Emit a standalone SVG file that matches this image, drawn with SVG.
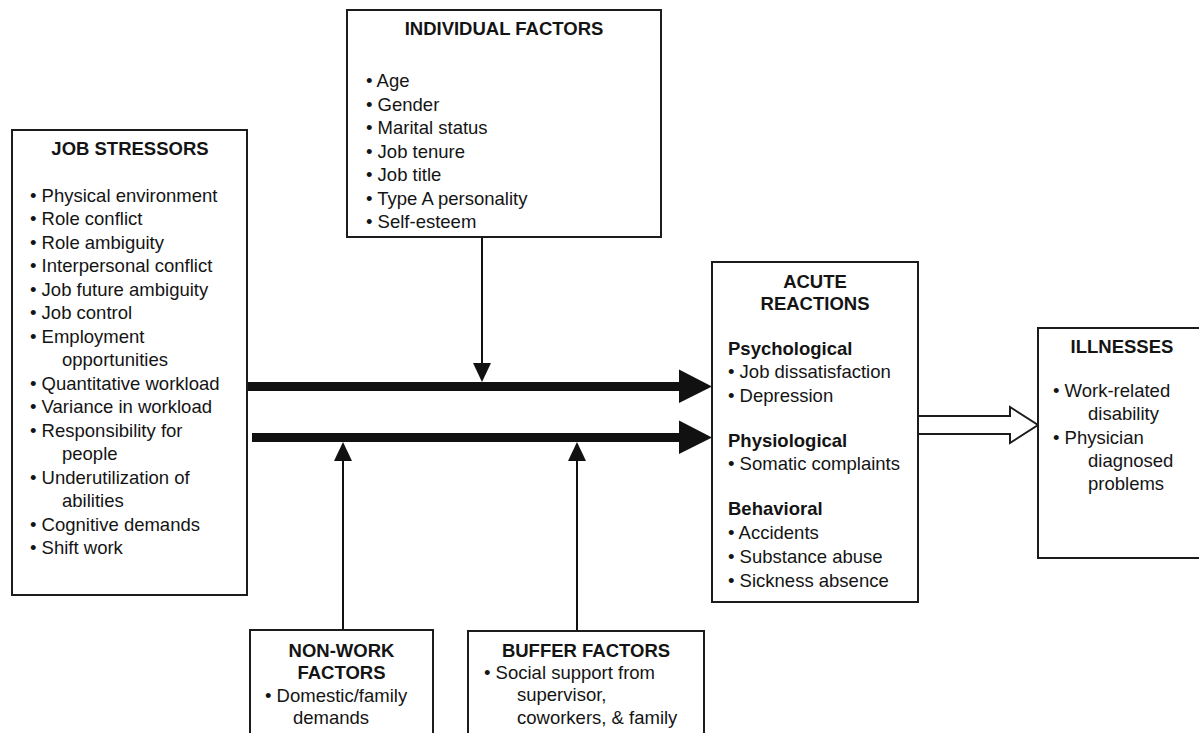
<svg xmlns="http://www.w3.org/2000/svg" width="1199" height="733" viewBox="0 0 1199 733">
<style>
.box{fill:#fff;stroke:#1c1c1c;stroke-width:2}
.t{font-family:"Liberation Sans",Arial,Helvetica,sans-serif;font-size:18.5px;fill:#141414}
.b{font-weight:bold}
.m{text-anchor:middle}
.ln{stroke:#111;stroke-width:2;fill:none}
.head{fill:#111}
.hollow{fill:#fff;stroke:#1c1c1c;stroke-width:2;stroke-linejoin:miter}
</style>
<rect width="1199" height="733" fill="#fff"/>

<g id="connectors">
  <!-- main thick arrows -->
  <rect x="247" y="382" width="434" height="9" class="head"/>
  <polygon points="679,369.5 712,386.5 679,403" class="head"/>
  <rect x="252" y="433" width="429" height="9" class="head"/>
  <polygon points="679,420.5 712,437.5 679,454" class="head"/>
  <!-- individual factors down arrow -->
  <line x1="482" y1="237" x2="482" y2="366" class="ln"/>
  <polygon points="473,363 491,363 482,382" class="head"/>
  <!-- non-work up arrow -->
  <line x1="343" y1="630" x2="343" y2="458" class="ln"/>
  <polygon points="334,461 352,461 343,442" class="head"/>
  <!-- buffer up arrow -->
  <line x1="577" y1="631" x2="577" y2="458" class="ln"/>
  <polygon points="568,461 586,461 577,442" class="head"/>
  <!-- hollow arrow to illnesses -->
  <polygon points="918,416 1010,416 1010,407 1038,425 1010,443 1010,434 918,434" class="hollow"/>
</g>

<g id="job-stressors">
  <rect x="12" y="130" width="235" height="465" class="box"/>
  <text x="130" y="155" class="t b m">JOB STRESSORS</text>
  <text class="t">
    <tspan x="30" y="201.7">• Physical environment</tspan>
    <tspan x="30" y="225.2">• Role conflict</tspan>
    <tspan x="30" y="248.7">• Role ambiguity</tspan>
    <tspan x="30" y="272.2">• Interpersonal conflict</tspan>
    <tspan x="30" y="295.7">• Job future ambiguity</tspan>
    <tspan x="30" y="319.2">• Job control</tspan>
    <tspan x="30" y="342.7">• Employment</tspan>
    <tspan x="62" y="366.2">opportunities</tspan>
    <tspan x="30" y="389.7">• Quantitative workload</tspan>
    <tspan x="30" y="413.2">• Variance in workload</tspan>
    <tspan x="30" y="436.7">• Responsibility for</tspan>
    <tspan x="62" y="460.2">people</tspan>
    <tspan x="30" y="483.7">• Underutilization of</tspan>
    <tspan x="62" y="507.2">abilities</tspan>
    <tspan x="30" y="530.7">• Cognitive demands</tspan>
    <tspan x="30" y="554.2">• Shift work</tspan>
  </text>
</g>

<g id="individual-factors">
  <rect x="347" y="10" width="314" height="227" class="box"/>
  <text x="504" y="35" class="t b m">INDIVIDUAL FACTORS</text>
  <text class="t">
    <tspan x="366" y="87">• Age</tspan>
    <tspan x="366" y="110.5">• Gender</tspan>
    <tspan x="366" y="134">• Marital status</tspan>
    <tspan x="366" y="157.5">• Job tenure</tspan>
    <tspan x="366" y="181">• Job title</tspan>
    <tspan x="366" y="204.5">• Type A personality</tspan>
    <tspan x="366" y="228">• Self-esteem</tspan>
  </text>
</g>

<g id="acute-reactions">
  <rect x="712" y="262" width="206" height="340" class="box"/>
  <text x="815" y="288" class="t b m">ACUTE</text>
  <text x="815" y="310" class="t b m">REACTIONS</text>
  <text x="728" y="355" class="t b">Psychological</text>
  <text class="t">
    <tspan x="728" y="378">• Job dissatisfaction</tspan>
    <tspan x="728" y="402">• Depression</tspan>
  </text>
  <text x="728" y="447" class="t b">Physiological</text>
  <text x="728" y="470" class="t">• Somatic complaints</text>
  <text x="728" y="515" class="t b">Behavioral</text>
  <text class="t">
    <tspan x="728" y="539">• Accidents</tspan>
    <tspan x="728" y="563">• Substance abuse</tspan>
    <tspan x="728" y="587">• Sickness absence</tspan>
  </text>
</g>

<g id="illnesses">
  <rect x="1038" y="328" width="170" height="230" class="box"/>
  <text x="1122" y="353" class="t b m">ILLNESSES</text>
  <text class="t">
    <tspan x="1053" y="397">• Work-related</tspan>
    <tspan x="1088" y="420">disability</tspan>
    <tspan x="1053" y="444">• Physician</tspan>
    <tspan x="1088" y="467">diagnosed</tspan>
    <tspan x="1088" y="490">problems</tspan>
  </text>
</g>

<g id="non-work-factors">
  <rect x="250" y="630" width="183" height="115" class="box"/>
  <text x="341.5" y="657" class="t b m">NON-WORK</text>
  <text x="341.5" y="679" class="t b m">FACTORS</text>
  <text class="t">
    <tspan x="265" y="702">• Domestic/family</tspan>
    <tspan x="293" y="724">demands</tspan>
  </text>
</g>

<g id="buffer-factors">
  <rect x="468" y="631" width="236" height="114" class="box"/>
  <text x="586" y="657" class="t b m">BUFFER FACTORS</text>
  <text class="t">
    <tspan x="484" y="679">• Social support from</tspan>
    <tspan x="517" y="701">supervisor,</tspan>
    <tspan x="517" y="724">coworkers, &amp; family</tspan>
  </text>
</g>
</svg>
